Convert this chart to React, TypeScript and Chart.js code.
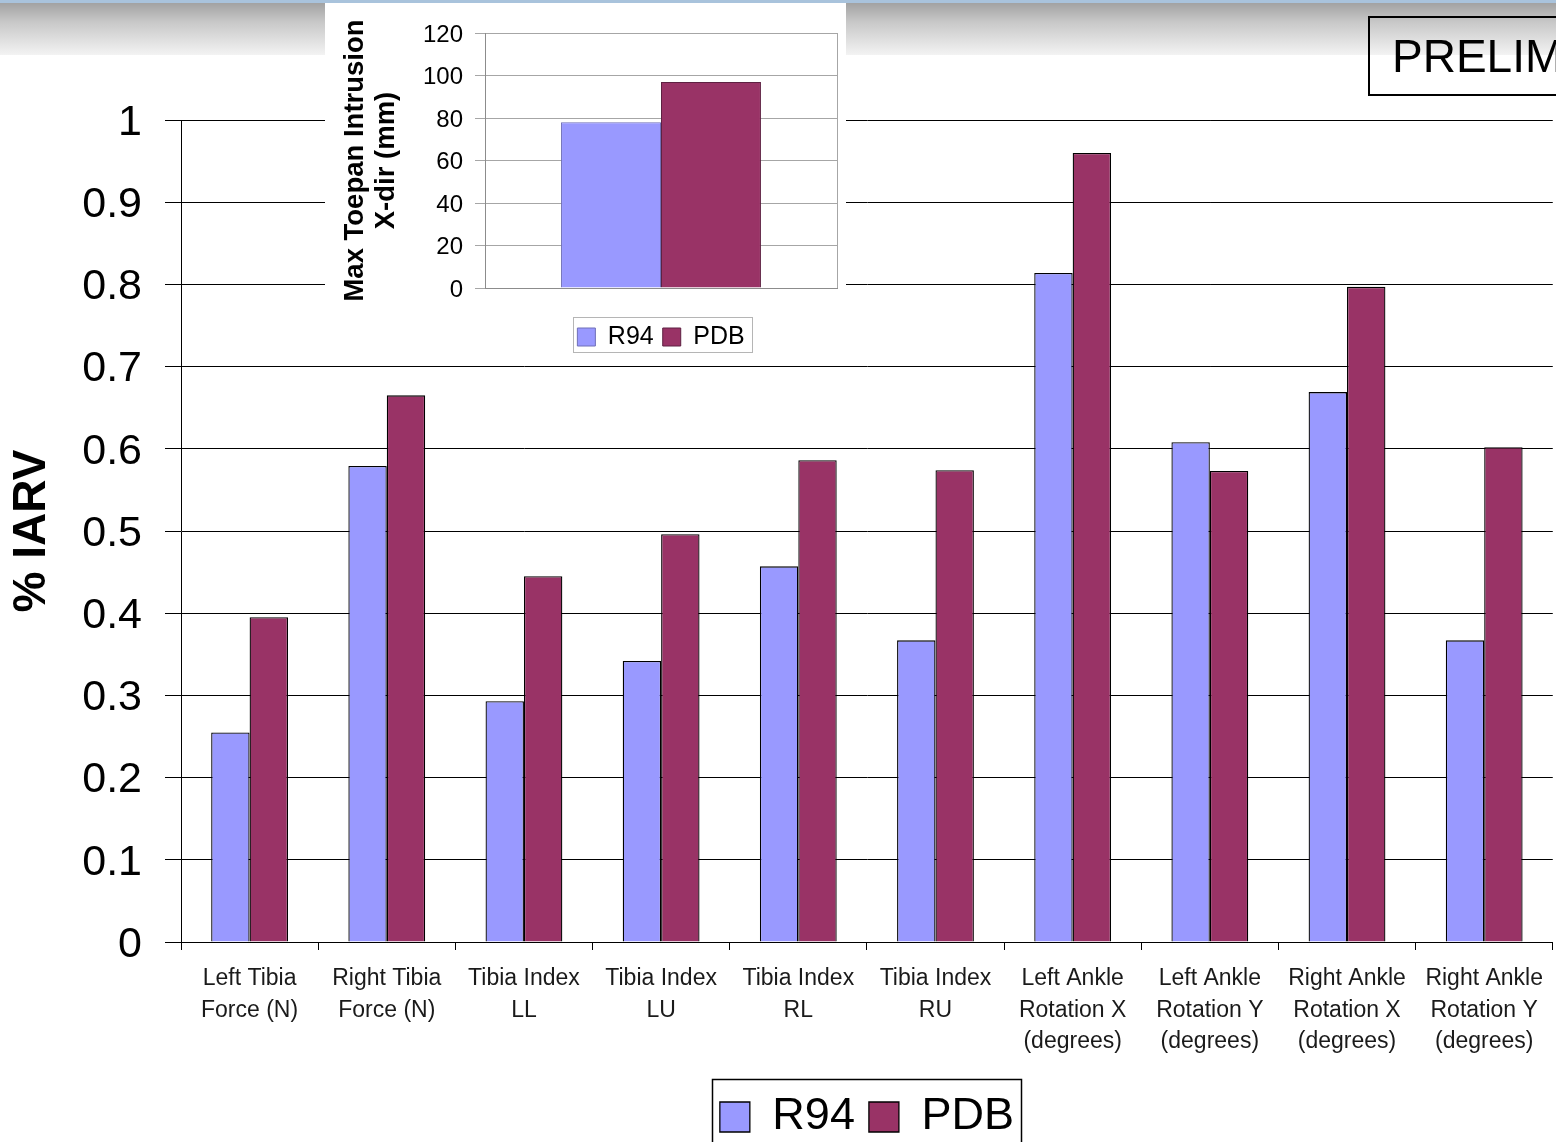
import { useEffect, useRef } from 'react';
import { Chart, registerables } from 'chart.js';

Chart.register(...registerables);

// Main chart: injury criteria as % IARV
const categories: string[][] = [
  ['Left Tibia', 'Force (N)'],
  ['Right Tibia', 'Force (N)'],
  ['Tibia Index', 'LL'],
  ['Tibia Index', 'LU'],
  ['Tibia Index', 'RL'],
  ['Tibia Index', 'RU'],
  ['Left Ankle', 'Rotation X', '(degrees)'],
  ['Left Ankle', 'Rotation Y', '(degrees)'],
  ['Right Ankle', 'Rotation X', '(degrees)'],
  ['Right Ankle', 'Rotation Y', '(degrees)'],
];
const r94Values = [0.255, 0.579, 0.293, 0.342, 0.457, 0.367, 0.814, 0.608, 0.669, 0.367];
const pdbValues = [0.395, 0.665, 0.445, 0.496, 0.586, 0.574, 0.96, 0.573, 0.797, 0.602];

// Inset chart: maximum toepan intrusion
const intrusionCategories = [''];
const r94Intrusion = [78];
const pdbIntrusion = [97];

const seriesNames = ['R94', 'PDB'];
const R94_COLOR = '#9999ff';
const PDB_COLOR = '#993366';
const FONT = '"Liberation Sans", Arial, Helvetica, sans-serif';

// Main canvas geometry: the legend sits under the category axis
const MAIN_HEIGHT = 1150;
const MAIN_BOTTOM_PAD = 0.5;
const MAIN_LEGEND_FONT = 45;
const MAIN_LEGEND_PAD = 14;
const MAIN_PLOT_BOTTOM = 942;
const MAIN_LEGEND_HEIGHT = MAIN_LEGEND_FONT + MAIN_LEGEND_PAD + 10;
const MAIN_X_AXIS_HEIGHT = MAIN_HEIGHT - MAIN_BOTTOM_PAD - MAIN_LEGEND_HEIGHT - MAIN_PLOT_BOTTOM;

// Draws a rectangular frame around the legend items
const legendFrame = {
  id: 'legendFrame',
  afterDraw(chart: any, _args: any, opts: any) {
    const legend = chart.legend;
    if (!legend || !legend.legendHitBoxes || !legend.legendHitBoxes.length) return;
    const boxes = legend.legendHitBoxes;
    const left = Math.min(...boxes.map((b: any) => b.left)) - opts.padLeft;
    const right = Math.max(...boxes.map((b: any) => b.left + b.width)) + opts.padRight;
    const top = Math.min(...boxes.map((b: any) => b.top)) - opts.padTop;
    const bottom = Math.max(...boxes.map((b: any) => b.top + b.height)) + opts.padBottom;
    const ctx = chart.ctx;
    ctx.save();
    ctx.strokeStyle = opts.color;
    ctx.lineWidth = opts.lineWidth;
    ctx.strokeRect(Math.round(left) + 0.5, Math.round(top) + 0.5, Math.round(right - left), Math.round(bottom - top));
    ctx.restore();
  },
};

function MainChart() {
  const ref = useRef<HTMLCanvasElement | null>(null);
  useEffect(() => {
    if (!ref.current) return;
    const chart = new Chart(ref.current, {
      type: 'bar',
      data: {
        labels: categories,
        datasets: [
          {
            label: seriesNames[0],
            data: r94Values,
            backgroundColor: R94_COLOR,
            borderColor: '#000',
            borderWidth: 1.3,
            categoryPercentage: 0.56,
            barPercentage: 1,
          },
          {
            label: seriesNames[1],
            data: pdbValues,
            backgroundColor: PDB_COLOR,
            borderColor: '#000',
            borderWidth: 1.3,
            categoryPercentage: 0.56,
            barPercentage: 1,
          },
        ],
      },
      options: {
        responsive: false,
        animation: false,
        devicePixelRatio: 1,
        layout: { padding: { top: 120, right: 0, left: 0, bottom: MAIN_BOTTOM_PAD } },
        plugins: {
          tooltip: { enabled: false },
          legend: {
            position: 'bottom',
            fullSize: false,
            labels: {
              boxWidth: 30,
              boxHeight: 30,
              padding: MAIN_LEGEND_PAD,
              color: '#000',
              font: { family: FONT, size: MAIN_LEGEND_FONT },
            },
          },
          legendFrame: { color: '#000', lineWidth: 1.5, padLeft: 7.5, padRight: 7, padTop: 15.5, padBottom: 12 },
        } as any,
        scales: {
          x: {
            offset: true,
            grid: {
              offset: true,
              drawOnChartArea: false,
              drawTicks: true,
              tickLength: 8,
              color: '#000',
            },
            border: { color: '#000', width: 1 },
            ticks: {
              autoSkip: false,
              maxRotation: 0,
              minRotation: 0,
              padding: 13,
              color: '#1a1a1a',
              font: { family: FONT, size: 23, lineHeight: 1.37 },
            },
            afterFit: (scale: any) => {
              scale.height = MAIN_X_AXIS_HEIGHT;
            },
          },
          y: {
            min: 0,
            max: 1,
            ticks: {
              stepSize: 0.1,
              padding: 23,
              labelOffset: 3,
              color: '#000',
              font: { family: FONT, size: 43 },
              callback: (value: any) => String(Math.round(Number(value) * 10) / 10),
            },
            grid: { color: '#000', lineWidth: 1, tickLength: 16 },
            border: { color: '#000', width: 1 },
            title: {
              display: true,
              text: '% IARV',
              color: '#000',
              padding: { top: 4.4, bottom: 0 },
              font: { family: FONT, size: 46, weight: 'bold', lineHeight: 1.2 },
            },
            afterFit: (scale: any) => {
              scale.width = 181;
            },
          },
        },
      },
      plugins: [legendFrame],
    });
    return () => chart.destroy();
  }, []);
  return (
    <canvas
      ref={ref}
      width={1556}
      height={MAIN_HEIGHT}
      style={{ position: 'absolute', left: 0, top: 0, width: 1556, height: MAIN_HEIGHT }}
    />
  );
}

function IntrusionChart() {
  const ref = useRef<HTMLCanvasElement | null>(null);
  useEffect(() => {
    if (!ref.current) return;
    const chart = new Chart(ref.current, {
      type: 'bar',
      data: {
        labels: intrusionCategories,
        datasets: [
          {
            label: seriesNames[0],
            data: r94Intrusion,
            backgroundColor: R94_COLOR,
            borderColor: '#6f6fb8',
            borderWidth: 1,
            categoryPercentage: 0.568,
            barPercentage: 1,
          },
          {
            label: seriesNames[1],
            data: pdbIntrusion,
            backgroundColor: PDB_COLOR,
            borderColor: '#5e2142',
            borderWidth: 1,
            categoryPercentage: 0.568,
            barPercentage: 1,
          },
        ],
      },
      options: {
        responsive: false,
        animation: false,
        devicePixelRatio: 1,
        layout: { padding: { top: 30, right: 9, left: 0, bottom: 5.5 } },
        plugins: {
          tooltip: { enabled: false },
          legend: {
            position: 'bottom',
            fullSize: false,
            labels: {
              boxWidth: 18,
              boxHeight: 18,
              padding: 9,
              color: '#000',
              font: { family: FONT, size: 25 },
            },
          },
          legendFrame: { color: '#b5b5b5', lineWidth: 1, padLeft: 4, padRight: 8, padTop: 7.5, padBottom: 2.5 },
        } as any,
        scales: {
          x: {
            offset: true,
            grid: {
              offset: true,
              drawOnChartArea: true,
              drawTicks: false,
              color: '#a6a6a6',
            },
            border: { color: '#8c8c8c', width: 1 },
            ticks: { display: false },
            afterFit: (scale: any) => {
              scale.height = 27.5;
            },
          },
          y: {
            min: 0,
            max: 120,
            ticks: {
              stepSize: 20,
              padding: 12,
              labelOffset: 2,
              color: '#000',
              font: { family: FONT, size: 24 },
            },
            grid: { color: '#a6a6a6', lineWidth: 1, tickLength: 10 },
            border: { color: '#8c8c8c', width: 1 },
            title: {
              display: true,
              text: ['Max Toepan Intrusion', 'X-dir (mm)'],
              color: '#000',
              padding: { top: 14.5, bottom: 0 },
              font: { family: FONT, size: 27.5, weight: 'bold', lineHeight: 1.13 },
            },
            afterFit: (scale: any) => {
              scale.width = 160;
            },
          },
        },
      },
      plugins: [legendFrame],
    });
    return () => chart.destroy();
  }, []);
  return (
    <canvas ref={ref} width={521} height={362} style={{ display: 'block', width: 521, height: 362 }} />
  );
}

export default function App() {
  return (
    <div
      style={{
        position: 'absolute',
        left: 0,
        top: 0,
        width: 1556,
        height: 1142,
        overflow: 'hidden',
        background: '#ffffff',
        fontFamily: FONT,
      }}
    >
      {/* slide header band */}
      <div
        style={{
          position: 'absolute',
          left: 0,
          top: 0,
          width: 1556,
          height: 55,
          background:
            'linear-gradient(to bottom, #a9c3dc 0px, #a9c3dc 3px, #a2a2a2 3px, #c8c8c8 22px, #f3f3f3 55px)',
        }}
      />
      <MainChart />
      <div
        style={{
          position: 'absolute',
          left: 325,
          top: 3,
          width: 521,
          height: 362,
          background: '#ffffff',
        }}
      >
        <IntrusionChart />
      </div>
      <div
        style={{
          position: 'absolute',
          left: 1368,
          top: 16,
          width: 260,
          height: 80,
          boxSizing: 'border-box',
          border: '2px solid #000',
          display: 'flex',
          alignItems: 'center',
          paddingLeft: 22,
          fontSize: 46,
          color: '#000',
          whiteSpace: 'nowrap',
        }}
      >
        PRELIM
      </div>
    </div>
  );
}
